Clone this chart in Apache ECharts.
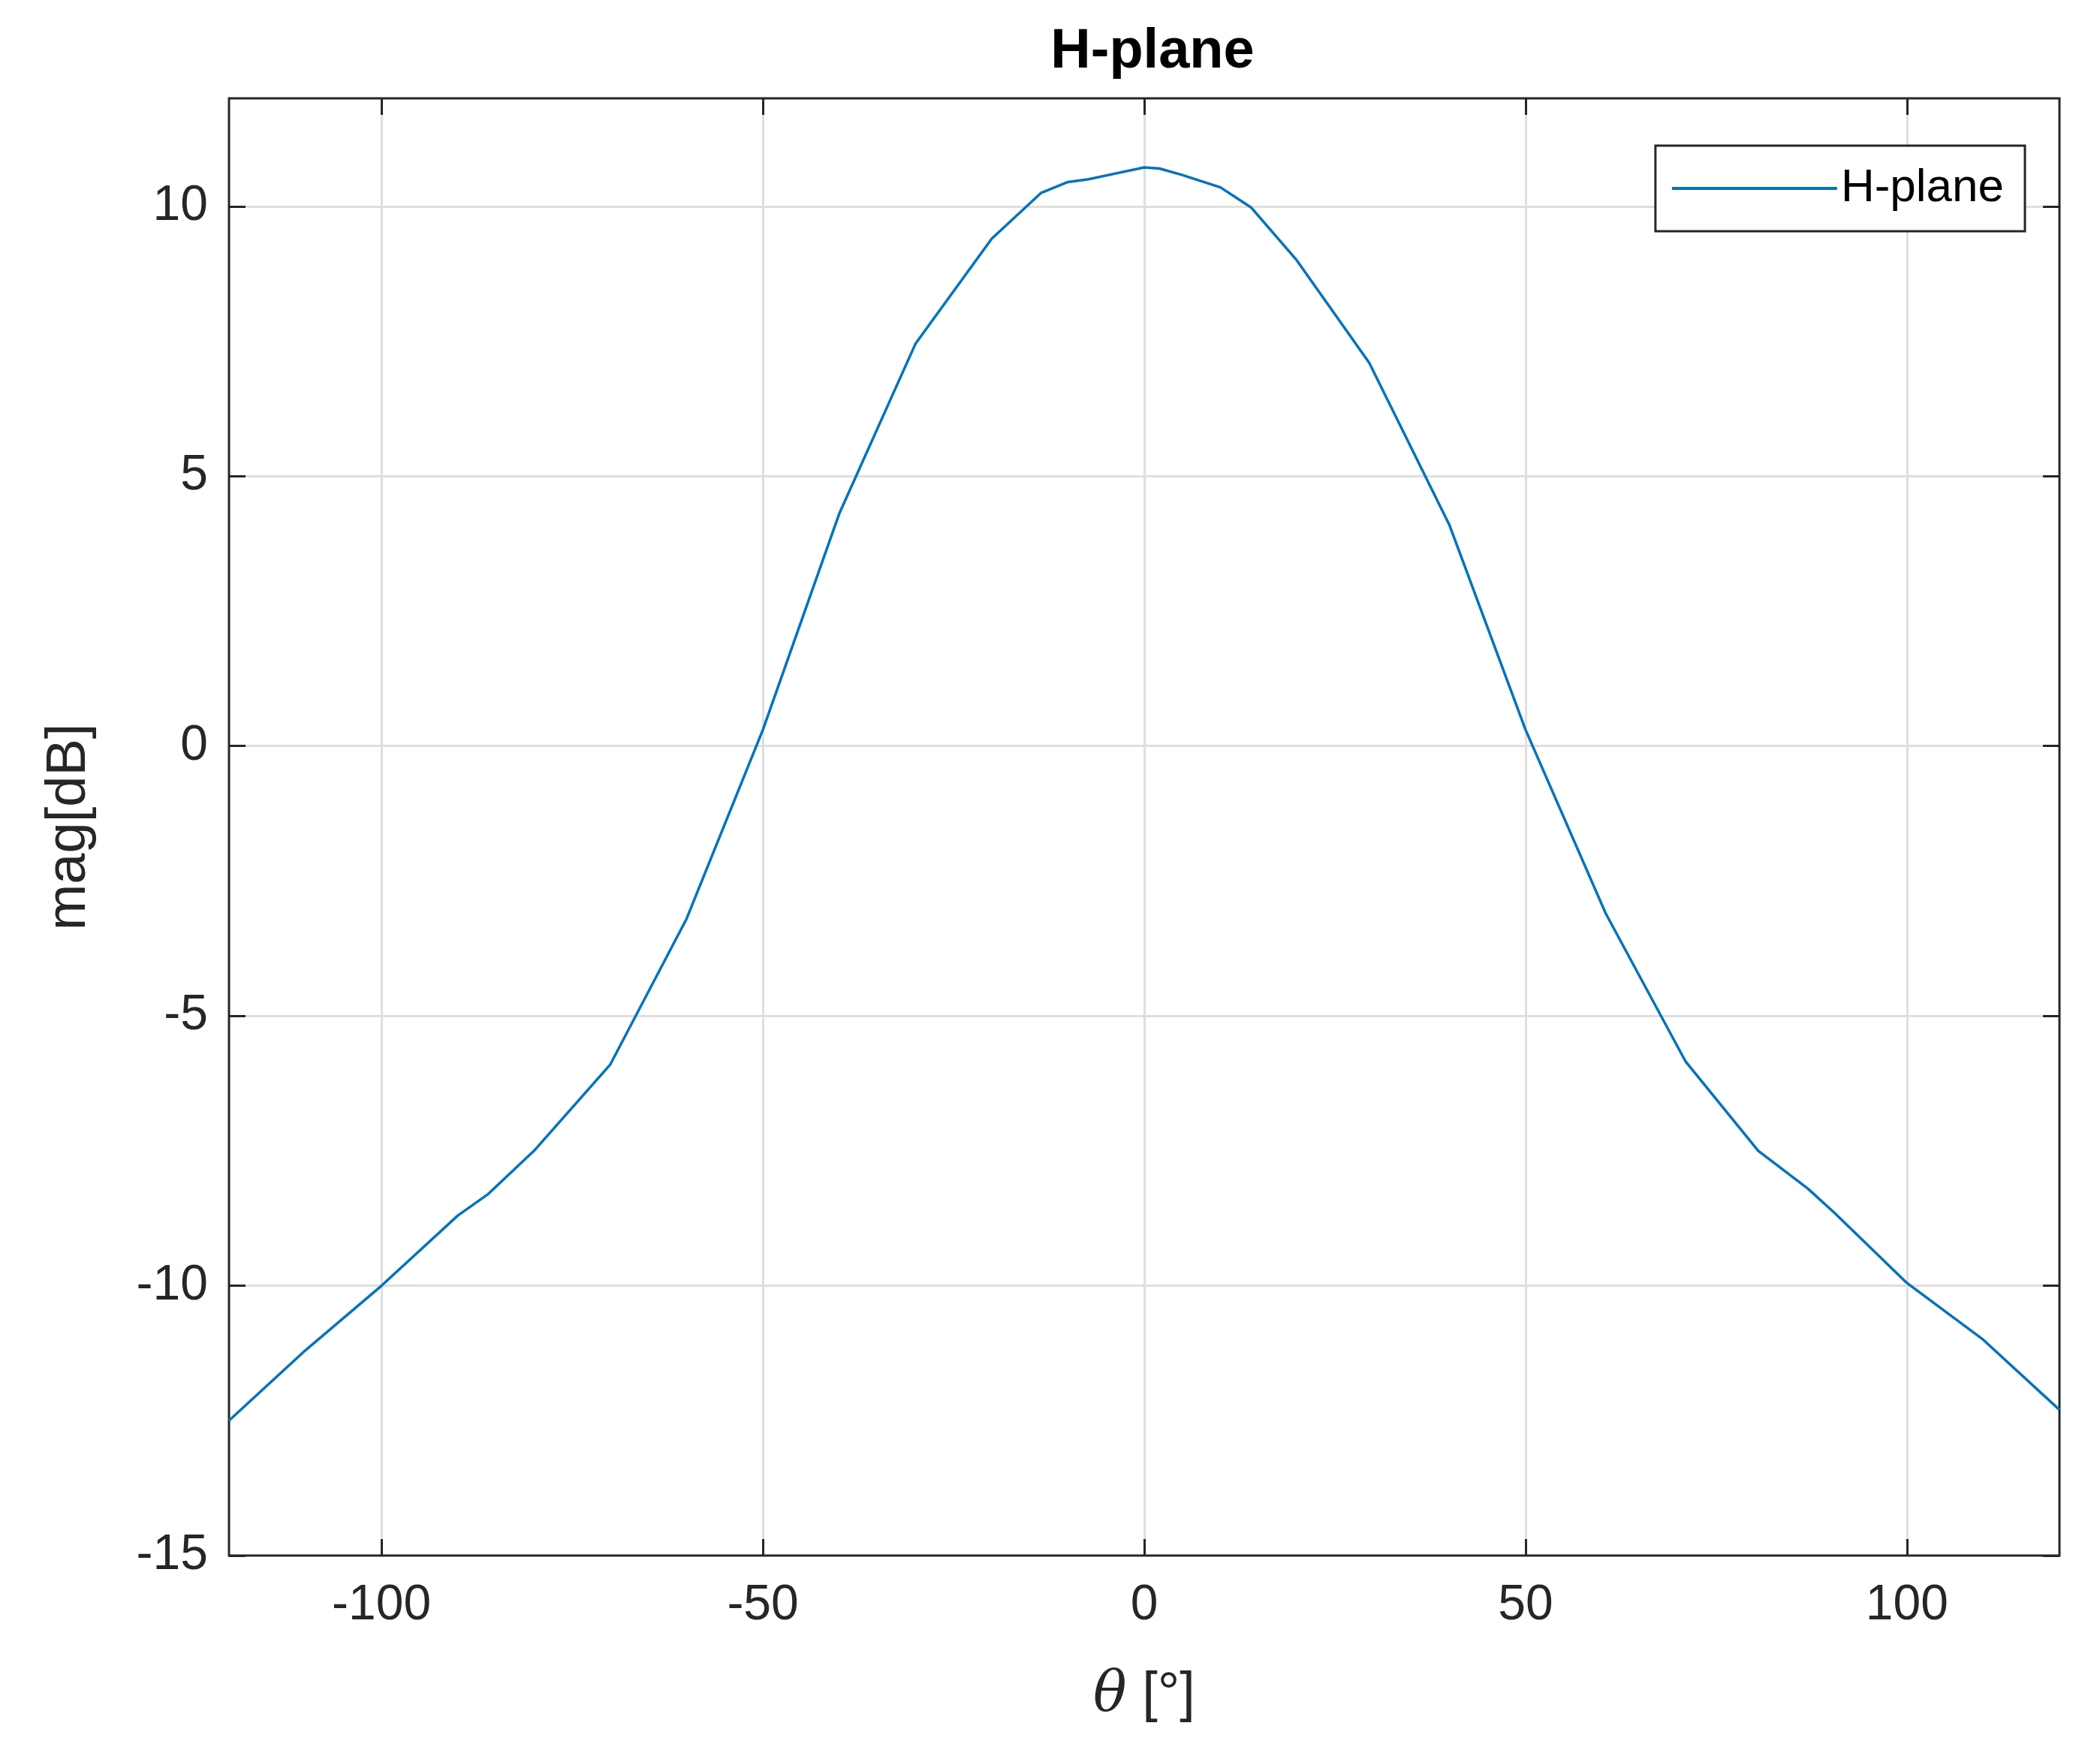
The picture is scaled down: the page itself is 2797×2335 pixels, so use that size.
<!DOCTYPE html>
<html><head><meta charset="utf-8">
<script src="https://cdn.jsdelivr.net/npm/echarts@6/dist/echarts.min.js"></script>
<style>html,body{margin:0;padding:0;background:#fff}#c{width:2797px;height:2335px}</style>
</head><body><div id="c"></div>
<script>
const theta = [-120,-110,-100,-90,-86,-80,-70,-60,-50,-40,-30,-20,-13.5,-10,-7.3,-4,0,2,5,10,14,20,29.5,40,50,60.5,71,80.5,87,90.5,100,110,120];
const mag = [-12.5,-11.2,-10,-8.7,-8.3,-7.5,-5.9,-3.2,0.3,4.3,7.45,9.4,10.25,10.45,10.5,10.6,10.72,10.7,10.58,10.35,9.98,9.0,7.1,4.1,0.3,-3.1,-5.85,-7.5,-8.2,-8.65,-9.95,-11.0,-12.3];
const xTicks = [-100,-50,0,50,100];
const yTicks = [-15,-10,-5,0,5,10];
const font = 'Liberation Sans, Helvetica, Arial, sans-serif';
const chart = echarts.init(document.getElementById('c'));
const grid = {left:305,right:54,top:131,bottom:263,show:true,borderColor:'#262626',borderWidth:3,backgroundColor:'#fff'};
const xBase = (pos,showLabel)=>({type:'value',position:pos,min:-120,max:120,
  axisLine:{show:false,onZero:false},splitLine:{show:false},
  axisTick:{show:true,inside:true,length:22,customValues:xTicks,lineStyle:{color:'#262626',width:3}},
  axisLabel:{show:showLabel,customValues:xTicks,fontSize:66,fontFamily:font,color:'#262626',margin:34}});
const yBase = (pos,showLabel)=>({type:'value',position:pos,min:-15,max:12,
  axisLine:{show:false,onZero:false},splitLine:{show:false},
  axisTick:{show:true,inside:true,length:22,customValues:yTicks,lineStyle:{color:'#262626',width:3}},
  axisLabel:{show:showLabel,customValues:yTicks,fontSize:66,fontFamily:font,color:'#262626',margin:28}});
const gridLines = xTicks.map(v=>({xAxis:v})).concat([-10,-5,0,5,10].map(v=>({yAxis:v})));
chart.setOption({
  animation:false,
  title:{text:'H-plane',left:1530,textAlign:'center',top:28,textStyle:{fontSize:74,fontWeight:'bold',fontFamily:font,color:'#000'}},
  grid:grid,
  xAxis:[Object.assign(xBase('bottom',true),{name:'{i|θ} [°]',nameLocation:'middle',nameGap:150,
    nameTextStyle:{fontSize:74,fontFamily:font,color:'#262626',rich:{i:{fontSize:74,fontStyle:'italic',fontFamily:'DejaVu Serif, serif',color:'#262626'}}}}),xBase('top',false)],
  yAxis:[Object.assign(yBase('left',true),{name:'mag[dB]',nameLocation:'middle',nameGap:175,nameTextStyle:{fontSize:74,fontFamily:font,color:'#262626'}}),yBase('right',false)],
  legend:{right:100,top:194,orient:'vertical',backgroundColor:'#fff',borderColor:'#262626',borderWidth:3,
    padding:[26,28,26,22],itemWidth:220,itemHeight:4,itemGap:10,
    textStyle:{fontSize:62,fontFamily:font,color:'#000'},icon:'rect'},
  series:[{name:'H-plane',type:'line',data:theta.map((t,i)=>[t,mag[i]]),showSymbol:false,
    lineStyle:{color:'#0072BD',width:3.5},itemStyle:{color:'#0072BD'},
    markLine:{silent:true,symbol:'none',label:{show:false},lineStyle:{color:'#dfdfdf',width:3,type:'solid'},data:gridLines,z:0}}]
});
</script></body></html>
